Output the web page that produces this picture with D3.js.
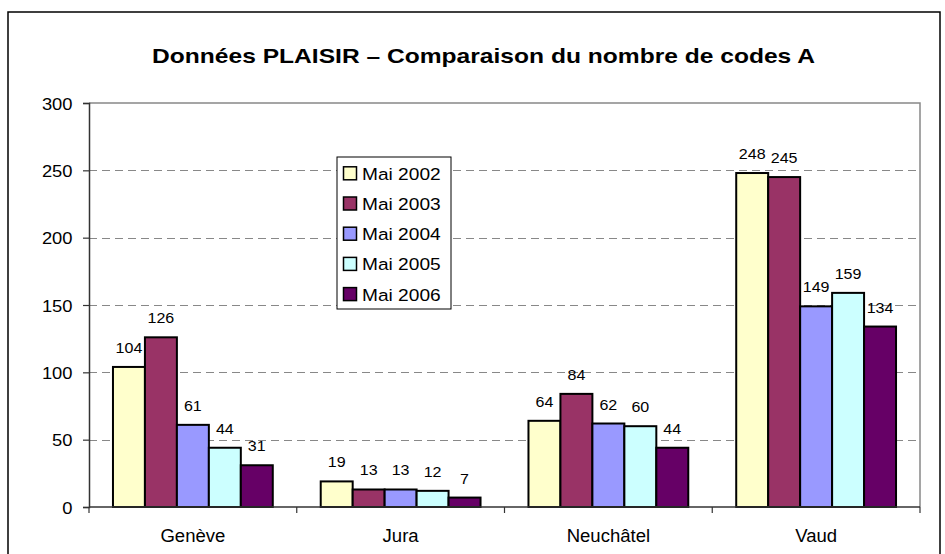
<!DOCTYPE html>
<html>
<head>
<meta charset="utf-8">
<script src="https://cdn.jsdelivr.net/npm/d3@7"></script>
<style>
  html, body { margin: 0; padding: 0; background: #fff; }
  svg { display: block; }
  text { font-family: "Liberation Sans", Arial, sans-serif; fill: #000; }
</style>
</head>
<body>
<svg id="chart" width="945" height="554"></svg>
<script>
const categories = ["Genève", "Jura", "Neuchâtel", "Vaud"];
const seriesNames = ["Mai 2002", "Mai 2003", "Mai 2004", "Mai 2005", "Mai 2006"];
const mai2002 = [104, 19, 64, 248];
const mai2003 = [126, 13, 84, 245];
const mai2004 = [61, 13, 62, 149];
const mai2005 = [44, 12, 60, 159];
const mai2006 = [31, 7, 44, 134];
const seriesValues = [mai2002, mai2003, mai2004, mai2005, mai2006];
const seriesColors = ["#FFFFCC", "#993366", "#9999FF", "#CCFFFF", "#660066"];
const yTicks = [0, 50, 100, 150, 200, 250, 300];
const titleText = "Données PLAISIR – Comparaison du nombre de codes A";

const svg = d3.select("#chart");
const plot = { left: 89, right: 920, top: 103, bottom: 507 };

function stretch(sel, sx) {
  sel.attr("transform", function () {
    const x = +this.getAttribute("x") || 0;
    return `translate(${x * (1 - sx)},0) scale(${sx},1)`;
  });
}

// outer frame
svg.append("rect").attr("x", 8).attr("y", 12).attr("width", 932).attr("height", 560)
  .attr("fill", "#fff").attr("stroke", "#000").attr("stroke-width", 1.5);

const x0 = d3.scaleBand().domain(categories).range([plot.left, plot.right]).paddingInner(0).paddingOuter(0);
const x1 = d3.scaleBand().domain(seriesNames).range([0, x0.bandwidth()]).paddingInner(0).paddingOuter(0.75);
const y = d3.scaleLinear().domain([0, 300]).range([plot.bottom, plot.top]);

// gridlines
svg.append("g").selectAll("line").data(yTicks.filter(t => t > 0 && t < 300)).join("line")
  .attr("x1", plot.left).attr("x2", plot.right)
  .attr("y1", d => Math.round(y(d)) + 0.5).attr("y2", d => Math.round(y(d)) + 0.5)
  .attr("stroke", "#888").attr("stroke-width", 1).attr("stroke-dasharray", "8,5");

// plot border top & right
svg.append("path")
  .attr("d", `M${plot.left},${y(300)}H${plot.right}V${plot.bottom}`)
  .attr("fill", "none").attr("stroke", "#888").attr("stroke-width", 1.5);

// title
const title = svg.append("text").attr("x", 483.5).attr("y", 62.7)
  .attr("text-anchor", "middle").attr("font-weight", "bold").attr("font-size", 21)
  .text(titleText);
const tw = title.node().getComputedTextLength();
stretch(title, 663 / tw);

// y axis
const yAxis = svg.append("g").attr("transform", `translate(${plot.left},0)`)
  .call(d3.axisLeft(y).tickValues(yTicks).tickSize(6).tickPadding(10));
yAxis.select(".domain").attr("stroke", "#333").attr("stroke-width", 1.5);
yAxis.selectAll(".tick line").attr("stroke", "#333").attr("stroke-width", 1.2);
yAxis.selectAll(".tick text").attr("font-size", 17).attr("font-family", "Liberation Sans, Arial, sans-serif")
  .attr("fill", "#000").attr("dy", "0.36em");
yAxis.selectAll(".tick text").each(function () {
  const t = d3.select(this);
  const sx = 1.08;
  t.attr("transform", `translate(${-10 * (1 - sx)},0) scale(${sx},1)`);
});

// bars
const groups = svg.append("g").selectAll("g").data(categories).join("g")
  .attr("transform", d => `translate(${x0(d)},0)`);

groups.each(function (cat, ci) {
  const g = d3.select(this);
  const recs = seriesNames.map((s, si) => ({ s, si, v: seriesValues[si][ci] }));
  g.selectAll("rect").data(recs).join("rect")
    .attr("x", d => x1(d.s))
    .attr("y", d => y(d.v))
    .attr("width", x1.bandwidth())
    .attr("height", d => y(0) - y(d.v))
    .attr("fill", d => seriesColors[d.si])
    .attr("stroke", "#000").attr("stroke-width", 2);
  g.selectAll("text.val").data(recs).join("text").attr("class", "val")
    .attr("x", d => x1(d.s) + x1.bandwidth() / 2)
    .attr("y", d => y(d.v) - 14)
    .attr("text-anchor", "middle").attr("font-size", 15)
    .text(d => d.v)
    .call(stretch, 1.07);
});

// x axis
svg.append("line").attr("x1", plot.left).attr("x2", plot.right)
  .attr("y1", plot.bottom).attr("y2", plot.bottom)
  .attr("stroke", "#333").attr("stroke-width", 1.5);
const boundaries = categories.map(c => x0(c)).concat([x0(categories[categories.length - 1]) + x0.bandwidth()]);
svg.append("g").selectAll("line").data(boundaries).join("line")
  .attr("x1", d => d).attr("x2", d => d)
  .attr("y1", plot.bottom).attr("y2", plot.bottom + 6)
  .attr("stroke", "#333").attr("stroke-width", 1.2);
svg.append("g").selectAll("text").data(categories).join("text")
  .attr("x", d => x0(d) + x0.bandwidth() / 2)
  .attr("y", 541.7)
  .attr("text-anchor", "middle").attr("font-size", 17.5)
  .text(d => d)
  .call(stretch, 1.06);

// legend
const legend = svg.append("g");
legend.append("rect").attr("x", 337).attr("y", 157).attr("width", 114).attr("height", 152)
  .attr("fill", "#fff").attr("stroke", "#000").attr("stroke-width", 1);
const items = legend.selectAll("g").data(seriesNames).join("g")
  .attr("transform", (d, i) => `translate(0,${173.3 + i * 30.2})`);
items.append("rect").attr("x", 343.5).attr("y", -6.5).attr("width", 13).attr("height", 13)
  .attr("fill", (d, i) => seriesColors[i]).attr("stroke", "#000").attr("stroke-width", 1.5);
items.append("text").attr("x", 362).attr("y", 6.5).attr("font-size", 16.5)
  .text(d => d)
  .call(stretch, 1.16);
</script>
</body>
</html>
